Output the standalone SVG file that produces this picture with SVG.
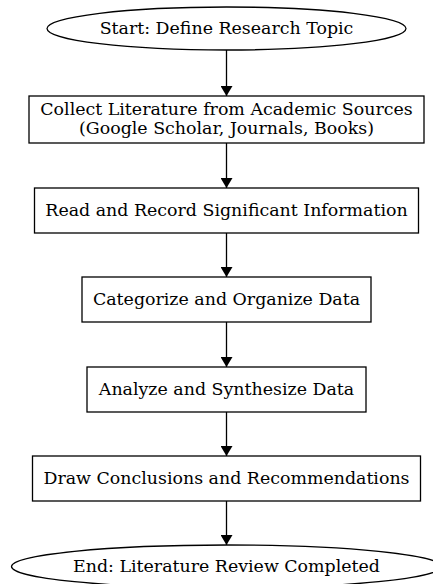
<svg xmlns="http://www.w3.org/2000/svg" width="433" height="584" viewBox="0 0 433 584">
<style>
.n{fill:#fff;stroke:#000;stroke-width:1.3}
.t{font-family:"DejaVu Serif",serif;font-size:17.4px;fill:#000;text-anchor:middle}
.e{stroke:#000;stroke-width:1.3;fill:none}
</style>
<defs>
<marker id="a" markerWidth="10" markerHeight="12" refX="10" refY="6" orient="auto" markerUnits="userSpaceOnUse" viewBox="0 0 10 12">
<path d="M0,0 L10,6 L0,12 Z" fill="#000"/>
</marker>
</defs>
<rect width="433" height="584" fill="#fff"/>
<g id="edges">
<line class="e" x1="226.5" y1="50" x2="226.5" y2="96" marker-end="url(#a)"/>
<line class="e" x1="226.5" y1="143" x2="226.5" y2="188" marker-end="url(#a)"/>
<line class="e" x1="226.5" y1="233" x2="226.5" y2="277" marker-end="url(#a)"/>
<line class="e" x1="226.5" y1="322" x2="226.5" y2="367" marker-end="url(#a)"/>
<line class="e" x1="226.5" y1="412" x2="226.5" y2="456" marker-end="url(#a)"/>
<line class="e" x1="226.5" y1="501" x2="226.5" y2="545" marker-end="url(#a)"/>
</g>
<g id="start">
<ellipse class="n" cx="226.5" cy="28.5" rx="179.5" ry="21.5"/>
<text class="t" x="226.5" y="34.3">Start: Define Research Topic</text>
</g>
<g id="collect">
<rect class="n" x="29" y="96" width="395" height="47"/>
<text class="t" x="226.5" y="115">Collect Literature from Academic Sources</text>
<text class="t" x="226.5" y="134">(Google Scholar, Journals, Books)</text>
</g>
<g id="read">
<rect class="n" x="34.5" y="188" width="384" height="45"/>
<text class="t" x="226.5" y="215.5">Read and Record Significant Information</text>
</g>
<g id="categorize">
<rect class="n" x="82" y="277" width="289" height="45"/>
<text class="t" x="226.5" y="305">Categorize and Organize Data</text>
</g>
<g id="analyze">
<rect class="n" x="87" y="367" width="279" height="45"/>
<text class="t" x="226.5" y="395">Analyze and Synthesize Data</text>
</g>
<g id="draw">
<rect class="n" x="32.5" y="456" width="388" height="45"/>
<text class="t" x="226.5" y="484">Draw Conclusions and Recommendations</text>
</g>
<g id="end">
<ellipse class="n" cx="226.5" cy="566.5" rx="215" ry="21.5"/>
<text class="t" x="226.5" y="572">End: Literature Review Completed</text>
</g>
</svg>
